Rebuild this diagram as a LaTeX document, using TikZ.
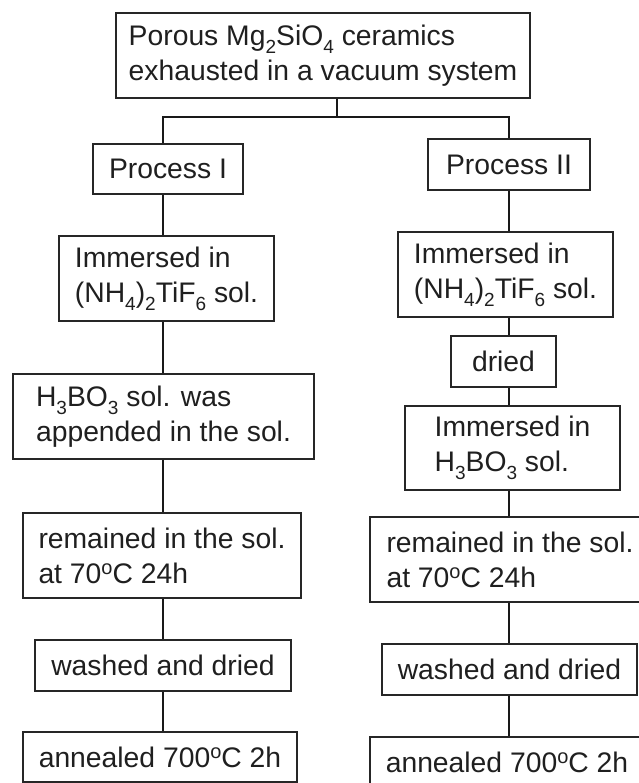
\documentclass[tikz,border=0pt]{standalone}
\usepackage{fontspec}
\setmainfont{Liberation Sans}
\newcommand{\sbs}[1]{\raisebox{-8pt}{\fontsize{19}{19}\selectfont #1}}
\newcommand{\dgo}{\raisebox{9pt}{\fontsize{20}{20}\selectfont o}}
\begin{document}
\begin{tikzpicture}[x=1pt,y=-1pt,
  box/.style={draw=black!85, line width=1.1pt, align=left, inner sep=0pt, text=black!88,
    font=\fontsize{28.3}{35}\selectfont},
  conn/.style={line width=2.7pt, black!90}]
\useasboundingbox (0,0) rectangle (638,783);
% top
\node[box, minimum width=414pt, minimum height=85pt] (top) at (323,55.5)
  {Porous Mg\sbs{2}SiO\sbs{4} ceramics\\exhausted in a vacuum system};
\coordinate (tj) at (337,117);
\coordinate (bl) at (163,117);
\coordinate (br) at (509,117);
% left column
\node[box, minimum width=150pt, minimum height=50pt] (p1) at (168,169) {Process I};
\node[box, minimum width=215pt, minimum height=85pt] (a1) at (166.5,278.5)
  {Immersed in\\(NH\sbs{4})\sbs{2}TiF\sbs{6} sol.};
\node[box, minimum width=301pt, minimum height=85pt] (a2) at (163.5,416.5)
  {H\sbs{3}BO\sbs{3} sol. was\\appended in the sol.};
\node[box, minimum width=278pt, minimum height=85pt] (a3) at (162,555.5)
  {remained in the sol.\\at 70\dgo C 24h};
\node[box, minimum width=256pt, minimum height=51pt] (a4) at (163,665.5) {washed and dried};
\node[box, minimum width=274pt, minimum height=50pt] (a5) at (160,757) {annealed 700\dgo C 2h};
% right column
\node[box, minimum width=162pt, minimum height=51pt] (p2) at (509,164.5) {Process II};
\node[box, minimum width=215pt, minimum height=85pt] (b1) at (505.5,274.5)
  {Immersed in\\(NH\sbs{4})\sbs{2}TiF\sbs{6} sol.};
\node[box, minimum width=105pt, minimum height=51pt] (b2) at (503.5,361.5) {dried};
\node[box, minimum width=215pt, minimum height=84pt] (b3) at (512.5,448)
  {Immersed in\\H\sbs{3}BO\sbs{3} sol.};
\node[box, minimum width=280pt, minimum height=85pt] (b4) at (510,559.5)
  {remained in the sol.\\at 70\dgo C 24h};
\node[box, minimum width=255pt, minimum height=51pt] (b5) at (509.5,669.5) {washed and dried};
\node[box, minimum width=274pt, minimum height=50pt] (b6) at (507,762) {annealed 700\dgo C 2h};
% connectors
\draw[conn] (top.south -| tj) -- (tj);
\draw[conn] (p1.north -| bl) -- (bl) -- (br) -- (p2.north -| br);
\draw[conn] (p1.south -| bl) -- (a1.north -| bl);
\draw[conn] (a1.south -| bl) -- (a2.north -| bl);
\draw[conn] (a2.south -| bl) -- (a3.north -| bl);
\draw[conn] (a3.south -| bl) -- (a4.north -| bl);
\draw[conn] (a4.south -| bl) -- (a5.north -| bl);
\draw[conn] (p2.south -| br) -- (b1.north -| br);
\draw[conn] (b1.south -| br) -- (b2.north -| br);
\draw[conn] (b2.south -| br) -- (b3.north -| br);
\draw[conn] (b3.south -| br) -- (b4.north -| br);
\draw[conn] (b4.south -| br) -- (b5.north -| br);
\draw[conn] (b5.south -| br) -- (b6.north -| br);
\end{tikzpicture}
\end{document}
